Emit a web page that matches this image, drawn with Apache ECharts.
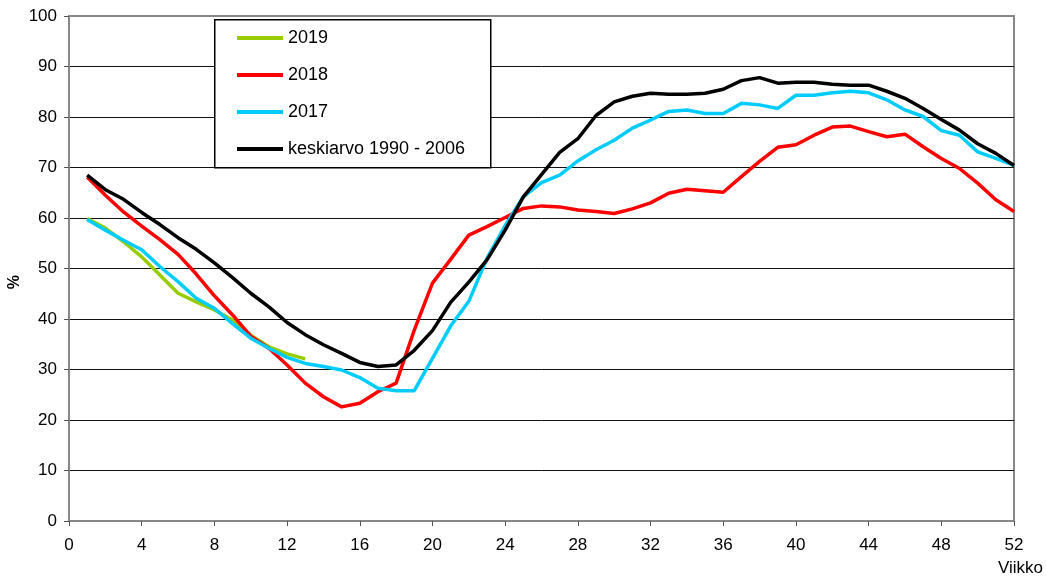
<!DOCTYPE html>
<html><head><meta charset="utf-8">
<script src="https://cdn.jsdelivr.net/npm/echarts@6/dist/echarts.min.js"></script>
<style>html,body{margin:0;padding:0;background:#fff}#c{width:1046px;height:577px}</style>
</head><body><div id="c"></div>
<script>
const weeks = Array.from({length:52},(_,i)=>i+1);
const names = ['2019','2018','2017','keskiarvo 1990 - 2006'];
const v2019 = [59.9,58.0,55.3,52.3,48.7,45.1,43.4,41.8,39.8,36.8,34.5,33.1,32.1];
const v2018 = [68.1,64.5,61.2,58.4,55.7,52.8,48.9,44.6,40.8,36.6,34.2,30.9,27.3,24.6,22.6,23.3,25.6,27.3,37.8,47.1,51.8,56.6,58.3,60.1,61.9,62.4,62.2,61.6,61.3,60.9,61.8,63.0,64.9,65.7,65.4,65.1,68.2,71.2,74.0,74.5,76.4,78.0,78.2,77.1,76.1,76.6,74.1,71.8,69.8,66.9,63.6,61.3];
const v2017 = [59.7,57.6,55.6,53.7,50.4,47.4,44.1,42.1,39.1,36.2,34.2,32.4,31.2,30.6,29.9,28.4,26.3,25.8,25.8,32.2,38.6,43.5,52.0,58.5,64.2,67.0,68.5,71.3,73.5,75.4,77.8,79.4,81.1,81.4,80.7,80.7,82.7,82.4,81.7,84.3,84.3,84.8,85.1,84.8,83.4,81.4,80.1,77.3,76.4,73.1,71.8,70.4];
const vAvg = [68.5,65.6,63.7,61.1,58.7,56.1,53.8,51.1,48.2,45.1,42.4,39.3,36.9,34.9,33.2,31.4,30.6,30.9,33.8,37.7,43.3,47.3,51.7,57.6,64.2,68.6,73.0,75.7,80.3,83.0,84.1,84.7,84.5,84.5,84.7,85.5,87.2,87.8,86.7,86.9,86.9,86.5,86.3,86.3,85.1,83.7,81.7,79.5,77.4,74.7,72.8,70.4];
const colors = ['#99cc00','#ff0000','#00ccff','#000000'];
const xTicks = [0,4,8,12,16,20,24,28,32,36,40,44,48,52];
const yTicks = [0,10,20,30,40,50,60,70,80,90,100];
const xName = 'Viikko', yName = '%';

const pair = arr => arr.map((v,i)=>[weeks[i],v]);
const allData = [v2019,v2018,v2017,vAvg];
const font = 'Liberation Sans, Arial, sans-serif';

const chart = echarts.init(document.getElementById('c'));
chart.setOption({
  animation:false,
  backgroundColor:'#fff',
  grid:{left:69,right:32,top:16,bottom:56,show:true,borderColor:'#888',borderWidth:2,backgroundColor:'transparent'},
  xAxis:{type:'value',min:0,max:52,interval:4,
    axisLine:{show:true,onZero:false,lineStyle:{color:'#888',width:2}},
    axisTick:{show:true,inside:false,length:5,lineStyle:{color:'#555'}},
    axisLabel:{color:'#000',fontSize:17,fontFamily:font,margin:16,formatter:v=>xTicks.includes(v)?String(v):''},
    splitLine:{show:false}},
  yAxis:{type:'value',min:0,max:100,interval:10,
    axisLine:{show:true,lineStyle:{color:'#888',width:2}},
    axisTick:{show:true,inside:false,length:5,lineStyle:{color:'#555'}},
    axisLabel:{color:'#000',fontSize:17,fontFamily:font,margin:12,formatter:v=>yTicks.includes(v)?String(v):''},
    splitLine:{show:true,lineStyle:{color:['#888','#111','#111','#111','#111','#111','#111','#111','#111','#111','#888'],width:1}}},
  legend:{orient:'vertical',left:237,top:29,padding:0,itemWidth:46,itemHeight:4,itemGap:19,itemTextGap:4,icon:'rect',
    textStyle:{color:'#000',fontSize:18,fontFamily:font},z:20,
    data:names},
  graphic:[
    {type:'rect',left:214,top:19,shape:{width:276,height:148},style:{fill:'#fff',stroke:'#000',lineWidth:1.5},z:10},
    {type:'text',left:998,top:560,style:{text:xName,fill:'#000',font:'17px '+font},z:10},
    {type:'text',left:7,top:275,rotation:Math.PI/2,style:{text:yName,fill:'#000',font:'bold 16px '+font},z:10}
  ],
  series: names.map((n,i)=>({name:n,type:'line',data:pair(allData[i]),symbol:'none',smooth:false,
    lineStyle:{color:colors[i],width:3.5},itemStyle:{color:colors[i]},z:i===3?4:3}))
});
</script></body></html>
